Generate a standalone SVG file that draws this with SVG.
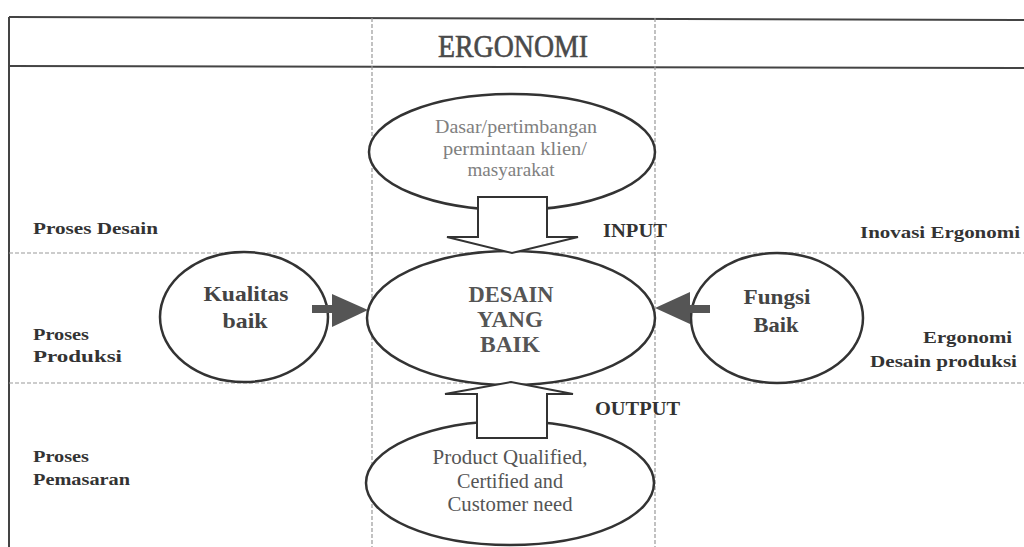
<svg xmlns="http://www.w3.org/2000/svg" width="1024" height="547" viewBox="0 0 1024 547">
<style>
.solid{stroke:#444;stroke-width:2;fill:none}
.dash{stroke:#999;stroke-width:1.2;stroke-dasharray:4,2;fill:none}
.ell{fill:#fff;stroke:#333;stroke-width:2.5}
.blk{fill:#fff;stroke:#333;stroke-width:2;stroke-linejoin:miter}
.garrow{fill:#555;stroke:none}
text{font-family:"Liberation Serif","Times New Roman",serif}
.lbl{font-weight:bold;font-size:16px;fill:#333}
.mid{text-anchor:middle}
.lt{font-size:19px;fill:#808080}
.ct{font-size:23px;font-weight:bold;fill:#555}
.bt{font-size:20px;fill:#555}
.side{font-weight:bold;font-size:21px;fill:#444}
.io{font-weight:bold;font-size:19px;fill:#333}
</style>
<rect width="1024" height="547" fill="#fff"/>
<g id="frame">
<line class="solid" x1="9" y1="17" x2="1024" y2="20"/>
<line class="solid" x1="9" y1="66" x2="1024" y2="68"/>
<line class="solid" x1="9" y1="17" x2="9" y2="547"/>
<line class="dash" x1="372" y1="18" x2="372" y2="547"/>
<line class="dash" x1="655" y1="18" x2="655" y2="547"/>
<line class="dash" x1="9" y1="253" x2="1024" y2="253"/>
<line class="dash" x1="9" y1="383" x2="1024" y2="383"/>
</g>
<g id="title"><text class="mid" x="513" y="57" font-size="32" fill="#4a4a4a" stroke="#4a4a4a" stroke-width="0.6" textLength="150" lengthAdjust="spacingAndGlyphs">ERGONOMI</text></g>
<g id="labels">
<text class="lbl" x="33" y="234" textLength="125" lengthAdjust="spacingAndGlyphs">Proses Desain</text>
<text class="lbl" x="33" y="340" textLength="56" lengthAdjust="spacingAndGlyphs">Proses</text>
<text class="lbl" x="33" y="362" textLength="89" lengthAdjust="spacingAndGlyphs">Produksi</text>
<text class="lbl" x="33" y="462" textLength="56" lengthAdjust="spacingAndGlyphs">Proses</text>
<text class="lbl" x="33" y="485" textLength="97" lengthAdjust="spacingAndGlyphs">Pemasaran</text>
<text class="lbl" x="860" y="238" textLength="160" lengthAdjust="spacingAndGlyphs">Inovasi Ergonomi</text>
<text class="lbl" x="923" y="343" textLength="89" lengthAdjust="spacingAndGlyphs">Ergonomi</text>
<text class="lbl" x="870" y="367" textLength="147" lengthAdjust="spacingAndGlyphs">Desain produksi</text>
<text class="io" x="603" y="237" textLength="64" lengthAdjust="spacingAndGlyphs">INPUT</text>
<text class="io" x="595" y="415" textLength="85" lengthAdjust="spacingAndGlyphs">OUTPUT</text>
</g>
<g id="node-input">
<ellipse class="ell" cx="512" cy="152" rx="143" ry="58"/>
<text class="lt mid" x="516" y="133" textLength="162" lengthAdjust="spacingAndGlyphs">Dasar/pertimbangan</text>
<text class="lt mid" x="515" y="155" textLength="144" lengthAdjust="spacingAndGlyphs">permintaan klien/</text>
<text class="lt mid" x="511" y="176" textLength="87" lengthAdjust="spacingAndGlyphs">masyarakat</text>
</g>
<g id="node-output">
<ellipse class="ell" cx="510" cy="483" rx="144" ry="62"/>
<text class="bt mid" x="510" y="464" textLength="155" lengthAdjust="spacingAndGlyphs">Product Qualified,</text>
<text class="bt mid" x="510" y="488" textLength="106" lengthAdjust="spacingAndGlyphs">Certified and</text>
<text class="bt mid" x="510" y="511" textLength="125" lengthAdjust="spacingAndGlyphs">Customer need</text>
</g>
<g id="node-kualitas">
<ellipse class="ell" cx="244" cy="317" rx="84" ry="65"/>
<text class="side mid" x="246" y="301" textLength="85" lengthAdjust="spacingAndGlyphs">Kualitas</text>
<text class="side mid" x="245" y="328" textLength="45" lengthAdjust="spacingAndGlyphs">baik</text>
</g>
<g id="node-fungsi">
<ellipse class="ell" cx="777" cy="318" rx="86" ry="65"/>
<text class="side mid" x="777" y="304" textLength="67" lengthAdjust="spacingAndGlyphs">Fungsi</text>
<text class="side mid" x="776" y="332" textLength="45" lengthAdjust="spacingAndGlyphs">Baik</text>
</g>
<g id="node-desain">
<ellipse class="ell" cx="511" cy="318" rx="144" ry="67"/>
<text class="ct mid" x="511" y="302" textLength="85" lengthAdjust="spacingAndGlyphs">DESAIN</text>
<text class="ct mid" x="510" y="327" textLength="66" lengthAdjust="spacingAndGlyphs">YANG</text>
<text class="ct mid" x="510" y="352" textLength="60" lengthAdjust="spacingAndGlyphs">BAIK</text>
</g>
<g id="connectors">
<polygon class="blk" points="478,197 547,197 547,237 578,237 512,253 447,237 478,237"/>
<polygon class="blk" points="477,438 547,438 547,394 573,394 511,382 445,394 477,394"/>
<rect class="garrow" x="312" y="305" width="24" height="8"/>
<polygon class="garrow" points="332,294 368,310 332,327"/>
<rect class="garrow" x="686" y="305" width="24" height="8"/>
<polygon class="garrow" points="690,292 655,308 690,324"/>
</g>
</svg>
